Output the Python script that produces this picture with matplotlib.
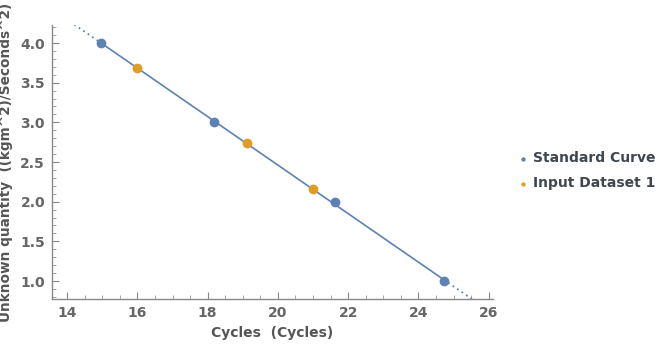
import numpy as np
import matplotlib
matplotlib.use('Agg')
import matplotlib.pyplot as plt
from matplotlib.ticker import MultipleLocator

# Standard curve points (cycles vs known quantity)
std_cycles = [14.97, 18.18, 21.62, 24.72]
std_qty = [4.0, 3.0, 2.0, 1.0]

# Input dataset points
inp_cycles = [15.99, 19.12, 21.0]
inp_qty = [3.685, 2.74, 2.16]

x_ticks = [14, 16, 18, 20, 22, 24, 26]
y_ticks = [1.0, 1.5, 2.0, 2.5, 3.0, 3.5, 4.0]

blue = '#5e81b5'
orange = '#e19c24'
grey = '#666666'

fig = plt.figure(figsize=(6.6, 3.45), dpi=100)
ax = fig.add_axes([0.0788, 0.1333, 0.668, 0.7942])

xlim = (13.57, 26.12)
ylim = (0.773, 4.227)

# Fit line through the standard curve
slope, intercept = np.polyfit(std_cycles, std_qty, 1)
x_solid = np.linspace(min(std_cycles), max(std_cycles), 50)
x_lo = np.linspace(xlim[0], min(std_cycles), 30)
x_hi = np.linspace(max(std_cycles), xlim[1], 30)
ax.plot(x_solid, slope * x_solid + intercept, color=blue, lw=1.2, zorder=2)
for xs in (x_lo, x_hi):
    ax.plot(xs, slope * xs + intercept, color=blue, lw=1.3, ls=(0, (1, 2)), zorder=2)

ax.scatter(std_cycles, std_qty, s=36, color=blue, zorder=3, label='Standard Curve')
ax.scatter(inp_cycles, inp_qty, s=36, color=orange, zorder=3, label='Input Dataset 1')

ax.set_xlim(*xlim)
ax.set_ylim(*ylim)
ax.set_xticks(x_ticks)
ax.set_yticks(y_ticks)
ax.set_yticklabels([f'{v:.1f}' for v in y_ticks])
ax.xaxis.set_minor_locator(MultipleLocator(0.5))
ax.yaxis.set_minor_locator(MultipleLocator(0.1))

for s in ('top', 'right'):
    ax.spines[s].set_visible(False)
for s in ('left', 'bottom'):
    ax.spines[s].set_color('#888888')
    ax.spines[s].set_linewidth(1.0)

ax.tick_params(which='major', direction='in', length=5, color='#888888',
               labelsize=10, labelcolor=grey, pad=5)
ax.tick_params(which='minor', direction='in', length=3, color='#999999')
for lab in ax.get_xticklabels() + ax.get_yticklabels():
    lab.set_fontweight('bold')

ax.set_xlabel('Cycles  (Cycles)', fontsize=10, fontweight='bold', color='#555555', labelpad=4)
ax.set_ylabel('Unknown quantity  ((kgm^2)/Seconds^2)', fontsize=9.8, fontweight='bold',
              color='#555555', labelpad=5)

leg = fig.legend(loc='center left', bbox_to_anchor=(0.767, 0.505), frameon=False,
                 markerscale=0.35, handlelength=0.55, handletextpad=0.45, labelspacing=0.8,
                 prop={'weight': 'bold', 'size': 10})
for t in leg.get_texts():
    t.set_color('#3f4650')

fig.savefig('out.png', dpi=100)
